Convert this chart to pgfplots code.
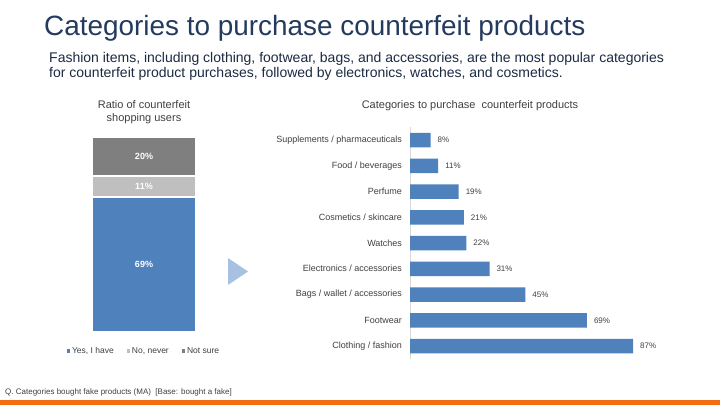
\documentclass[border=0pt]{standalone}
\usepackage{pgfplots}
\usepackage{pgfplotstable}
\pgfplotsset{compat=1.18}
\usepackage{fontspec}
\setmainfont{Liberation Sans}

\definecolor{titlecol}{HTML}{243B5E}
\definecolor{subcol}{HTML}{1C2A44}
\definecolor{barblue}{HTML}{4F81BD}
\definecolor{segmid}{HTML}{BFBFBF}
\definecolor{segdark}{HTML}{7F7F7F}
\definecolor{txtgray}{HTML}{404040}
\definecolor{axisgray}{HTML}{D9D9D9}
\definecolor{arrowblue}{HTML}{A9C1E0}
\definecolor{barorange}{HTML}{F26E12}

\pgfplotstableread{
seg   value  mid
yes   69     34.5
no    11     74.5
ns    20     90
}\sharetable

\begin{document}
\begin{tikzpicture}[x=1pt,y=1pt]
% canvas
\fill[white] (0,0) rectangle (720,405);

% headline and lead text
\node[anchor=base west, inner sep=0, text=titlecol, font=\fontsize{27.9}{33}\selectfont]
  at (44,369) {Categories to purchase counterfeit products};
\node[anchor=base west, inner sep=0, text=subcol, font=\fontsize{14}{16}\selectfont]
  at (49,342.5) {Fashion items, including clothing, footwear, bags, and accessories, are the most popular categories};
\node[anchor=base west, inner sep=0, text=subcol, font=\fontsize{14}{16}\selectfont]
  at (49,327) {for counterfeit product purchases, followed by electronics, watches, and cosmetics.};

% panel titles
\node[align=center, text=txtgray, font=\fontsize{11}{13}\selectfont] at (144,292.5)
  {Ratio of counterfeit\\shopping users};
\node[text=txtgray, font=\fontsize{11}{13}\selectfont] at (470,299)
  {Categories to purchase\ \ counterfeit products};

% connector arrow
\fill[arrowblue] (228,147) -- (248,133.5) -- (228,120) -- cycle;

% share of users who bought a fake
\begin{axis}[
  at={(92pt,73pt)}, anchor=south west,
  width=104pt, height=195pt, scale only axis,
  ybar stacked, bar width=104pt,
  xmin=-0.5, xmax=0.5, ymin=0, ymax=100,
  hide axis,
  every axis plot/.append style={legend image code/.code={\fill[#1,draw=none] (0pt,-1.6pt) rectangle (3.2pt,1.6pt);}},
  legend columns=3,
  legend style={at={(0.5,-0.097)}, anchor=center, draw=none, fill=none,
    font=\fontsize{8.5}{10}\selectfont, text=txtgray,
    /tikz/every even column/.append style={column sep=11pt}},
]
\addplot[fill=barblue, draw=white, line width=2pt] coordinates {(0,69)};
\addplot[fill=segmid, draw=white, line width=2pt] coordinates {(0,11)};
\addplot[fill=segdark, draw=white, line width=2pt] coordinates {(0,20)};
\legend{{Yes, I have},{No, never},{Not sure}}
\end{axis}

% segment labels, centred in each segment
\begin{axis}[
  at={(92pt,73pt)}, anchor=south west,
  width=104pt, height=195pt, scale only axis,
  xmin=-0.5, xmax=0.5, ymin=0, ymax=100,
  hide axis,
  /pgf/number format/assume math mode=true,
  nodes near coords={\pgfmathprintnumber{\pgfplotspointmeta}\%},
  every node near coord/.append style={font=\bfseries\fontsize{9}{10}\selectfont, text=white, anchor=center},
]
\addplot[only marks, mark=none, point meta=explicit] table[x expr=0, y=mid, meta=value] {\sharetable};
\end{axis}

% purchased categories
\begin{axis}[
  at={(410pt,46.1pt)}, anchor=south west,
  width=256.5pt, height=231.75pt, scale only axis,
  xbar, bar width=14.5pt,
  xmin=0, xmax=100, ymin=-0.5, ymax=8.5,
  axis x line=none, axis y line*=left,
  axis line style={draw=axisgray, line width=0.8pt, -},
  ytick={0,...,8},
  yticklabels={Clothing / fashion, Footwear, Bags / wallet / accessories,
    Electronics / accessories, Watches, Cosmetics / skincare, Perfume,
    Food / beverages, Supplements / pharmaceuticals},
  major tick length=0pt, ytick style={draw=none},
  yticklabel style={font=\fontsize{9}{10}\selectfont, text=txtgray, xshift=-4.5pt},
  /pgf/number format/assume math mode=true,
  nodes near coords={\pgfmathprintnumber{\pgfplotspointmeta}\%},
  every node near coord/.append style={font=\fontsize{8}{9}\selectfont, text=txtgray, xshift=3.5pt},
]
\addplot[fill=barblue, draw=none] coordinates {
  (87,0) (69,1) (45,2) (31,3) (22,4) (21,5) (19,6) (11,7) (8,8)};
\end{axis}

% footnote and bottom band
\node[anchor=base west, inner sep=0, text=txtgray, font=\fontsize{8}{9}\selectfont]
  at (5,11) {Q. Categories bought fake products (MA)\ \ [Base: bought a fake]};
\fill[barorange] (0,0) rectangle (720,5);
\end{tikzpicture}
\end{document}
